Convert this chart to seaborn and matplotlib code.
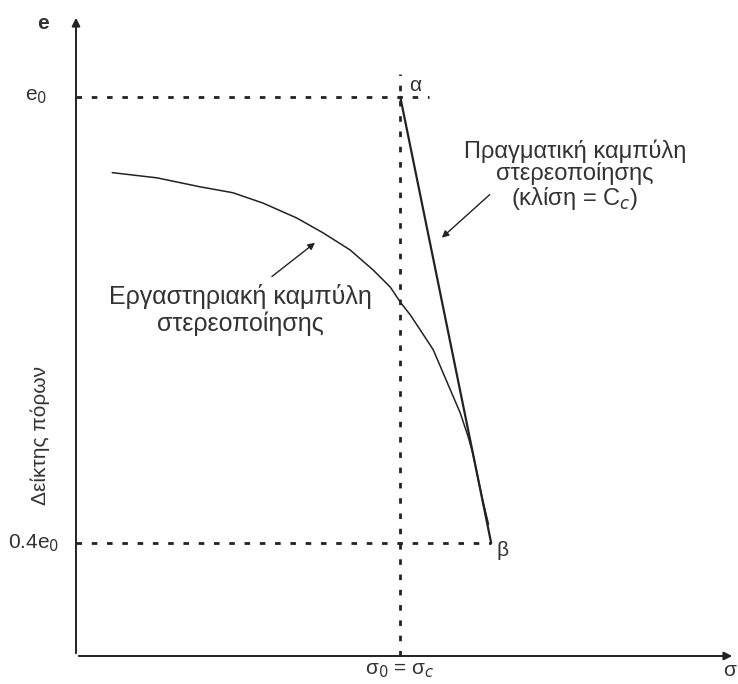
import matplotlib
matplotlib.use("Agg")
import matplotlib.pyplot as plt
import seaborn as sns
import pandas as pd

# --- data (arbitrary units) ---
lab_sigma = [5.5, 12.3, 18.8, 23.8, 28.4, 33.5, 37.5, 41.6, 45.1, 47.7, 49.2, 50.7,
             52.2, 54.2, 55.5, 56.8, 58.3, 59.5, 60.2, 61.6, 62.6]
lab_e = [0.898, 0.891, 0.879, 0.871, 0.857, 0.837, 0.817, 0.794, 0.767, 0.744, 0.724,
         0.707, 0.687, 0.660, 0.633, 0.606, 0.575, 0.543, 0.521, 0.462, 0.425]
field_sigma = [49.2, 63.0]   # alpha -> beta
field_e = [1.0, 0.4]
e0 = 1.0
e_low = 0.4
sigma0 = 49.2

sns.set_style("white")
plt.rcParams['font.family'] = ['Liberation Sans', 'DejaVu Sans']

W, H = 738, 684
fig = plt.figure(figsize=(W / 100, H / 100), dpi=100)
ax = fig.add_axes([76 / W, (H - 656) / H, (735 - 76) / W, (656 - 15) / H])
ax.set_xlim(0, 100)
ax.set_ylim(0.248, 1.110)
for s in ax.spines.values():
    s.set_visible(False)
ax.set_xticks([])
ax.set_yticks([])

ink = "#222222"
lab = pd.DataFrame({"sigma": lab_sigma, "e": lab_e})
fld = pd.DataFrame({"sigma": field_sigma, "e": field_e})
sns.lineplot(data=lab, x="sigma", y="e", ax=ax, color=ink, lw=1.1, sort=False)
sns.lineplot(data=fld, x="sigma", y="e", ax=ax, color=ink, lw=1.6, sort=False)

# axes with arrows
ax.annotate("", xy=(1.0, 0), xytext=(0, 0), xycoords="axes fraction",
            arrowprops=dict(arrowstyle="-|>", color=ink, lw=1.4, mutation_scale=12),
            annotation_clip=False)
ax.annotate("", xy=(0, 1.0), xytext=(0, 0), xycoords="axes fraction",
            arrowprops=dict(arrowstyle="-|>", color=ink, lw=1.4, mutation_scale=12),
            annotation_clip=False)

# dotted reference lines
dash = dict(color=ink, lw=2.0, ls=(0, (2, 3.5)))
ax.plot([0, 53.5], [e0, e0], **dash)
ax.plot([0, field_sigma[1]], [e_low, e_low], **dash)
ax.plot([sigma0, sigma0], [0.248, 1.03], **dash, clip_on=False)

# labels
fs = 15
tc = "#333333"
ax.text(-5.0, 1.098, "e", fontsize=fs, color=tc, ha="center", va="center", fontweight="bold")
ax.text(-6.0, e0, "e$_0$", fontsize=fs, color=tc, ha="center", va="center")
ax.text(-6.5, e_low, "0.4e$_0$", fontsize=fs, color=tc, ha="center", va="center")
ax.text(-5.5, 0.544, "Δείκτης πόρων", fontsize=fs, color=tc, ha="center", va="center",
        rotation=90)
ax.text(sigma0, 0.228, "σ$_0$ = σ$_c$", fontsize=fs, color=tc, ha="center", va="center")
ax.text(99.2, 0.228, "σ", fontsize=fs, color=tc, ha="center", va="center", clip_on=False)
ax.text(50.5, 1.015, "α", fontsize=fs, color=tc, ha="left", va="center")
ax.text(63.8, 0.39, "β", fontsize=fs, color=tc, ha="left", va="center")

ax.text(75.7, 0.894, "Πραγματική καμπύλη\nστερεοποίησης\n(κλίση = C$_c$)", fontsize=17,
        color=tc, ha="center", va="center", linespacing=0.98)
ax.text(25.0, 0.713, "Εργαστηριακή καμπύλη\nστερεοποίησης", fontsize=18,
        color=tc, ha="center", va="center", linespacing=1.1)

ax.annotate("", xy=(55.2, 0.808), xytext=(63.1, 0.871),
            arrowprops=dict(arrowstyle="-|>", color=ink, lw=1.0, mutation_scale=10))
ax.annotate("", xy=(36.6, 0.806), xytext=(29.4, 0.756),
            arrowprops=dict(arrowstyle="-|>", color=ink, lw=1.0, mutation_scale=10))

fig.savefig("out.png", dpi=100)
